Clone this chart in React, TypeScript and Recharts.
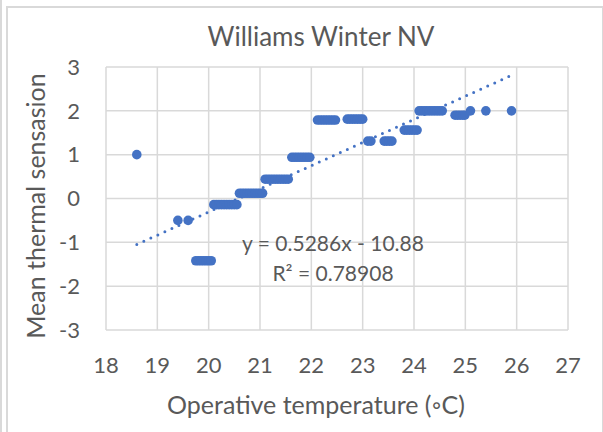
import { ScatterChart, Scatter, XAxis, YAxis, CartesianGrid, ReferenceLine } from 'recharts';

const chartTitle = 'Williams Winter NV';
const xTitle = 'Operative temperature (\u25E6C)';
const yTitle = 'Mean thermal sensasion';

const xTicks = [18, 19, 20, 21, 22, 23, 24, 25, 26, 27];
const yTicks = [-3, -2, -1, 0, 1, 2, 3];

// operative temperature (°C) and mean thermal sensation
const temperature = [
  18.6,
  19.4, 19.6,
  19.75, 19.8, 19.85, 19.9, 19.95, 20.0, 20.05,
  20.1, 20.15, 20.2, 20.25, 20.3, 20.35, 20.4, 20.45, 20.5, 20.55,
  20.6, 20.65, 20.7, 20.75, 20.8, 20.85, 20.9, 20.95, 21.0, 21.05,
  21.1, 21.15, 21.2, 21.25, 21.3, 21.35, 21.4, 21.45, 21.5, 21.55,
  21.62, 21.67, 21.72, 21.77, 21.82, 21.87, 21.92, 21.97,
  22.12, 22.17, 22.22, 22.27, 22.32, 22.37, 22.42, 22.47,
  22.7, 22.75, 22.8, 22.85, 22.9, 22.95, 23.0,
  23.1, 23.16,
  23.42, 23.47, 23.52, 23.57,
  23.81, 23.86, 23.91, 23.96, 24.01, 24.06,
  24.1, 24.15, 24.2, 24.25, 24.3, 24.35, 24.4, 24.45, 24.5, 24.55,
  24.8, 24.85, 24.9, 24.95, 24.99,
  25.1, 25.4, 25.9,
];

const sensation = [
  1.0,
  -0.5, -0.5,
  -1.42, -1.42, -1.42, -1.42, -1.42, -1.42, -1.42,
  -0.14, -0.14, -0.14, -0.14, -0.14, -0.14, -0.14, -0.14, -0.14, -0.14,
  0.12, 0.12, 0.12, 0.12, 0.12, 0.12, 0.12, 0.12, 0.12, 0.12,
  0.44, 0.44, 0.44, 0.44, 0.44, 0.44, 0.44, 0.44, 0.44, 0.44,
  0.94, 0.94, 0.94, 0.94, 0.94, 0.94, 0.94, 0.94,
  1.79, 1.79, 1.79, 1.79, 1.79, 1.79, 1.79, 1.79,
  1.81, 1.81, 1.81, 1.81, 1.81, 1.81, 1.81,
  1.31, 1.31,
  1.31, 1.31, 1.31, 1.31,
  1.56, 1.56, 1.56, 1.56, 1.56, 1.56,
  2.0, 2.0, 2.0, 2.0, 2.0, 2.0, 2.0, 2.0, 2.0, 2.0,
  1.9, 1.9, 1.9, 1.9, 1.9,
  2.0, 2.0, 2.0,
];

// linear trendline as reported on the chart
const trendSlope = 0.5286;
const trendIntercept = -10.88;
const trendR2 = 0.78908;

const points = temperature.map((x, i) => ({ x, y: sensation[i] }));
const xMin = Math.min(...temperature);
const xMax = Math.max(...temperature);
const trendSegment = [
  { x: xMin, y: trendSlope * xMin + trendIntercept },
  { x: xMax, y: trendSlope * xMax + trendIntercept },
];

const BLUE = '#4472C4';
const GRID = '#d9d9d9';
const TEXT = '#595959';
const FONT = 'Lato, Calibri, sans-serif';

const Dot = (props: any) => <circle cx={props.cx} cy={props.cy} r={4.8} fill={BLUE} />;

const centered = (x: number, y: number, size: number): React.CSSProperties => ({
  position: 'absolute',
  left: x,
  top: y,
  transform: 'translate(-50%, -50%)',
  fontFamily: FONT,
  fontSize: size,
  lineHeight: 1.2,
  color: TEXT,
  whiteSpace: 'nowrap',
});

export default function App() {
  return (
    <div style={{ position: 'absolute', left: 0, top: 0, width: 603, height: 432, overflow: 'hidden', background: '#fff' }}>
      <div style={{ position: 'absolute', left: 0, top: 0, width: 2, height: 432, background: GRID }} />
      <div style={{ position: 'absolute', left: 6, top: 6, width: 594, height: 460, border: `2px solid ${GRID}` }} />

      <ScatterChart
        width={603}
        height={432}
        margin={{ top: 67, right: 35, bottom: 62, left: 66 }}
        style={{ position: 'absolute', left: 0, top: 0 }}
      >
        <CartesianGrid stroke={GRID} strokeWidth={1.5} />
        <XAxis
          type="number"
          dataKey="x"
          domain={[18, 27]}
          ticks={xTicks}
          height={40}
          axisLine={false}
          tickLine={false}
          tickSize={0}
          tickMargin={27}
          tick={{ fill: TEXT, fontSize: 22, fontFamily: FONT }}
        />
        <YAxis
          type="number"
          dataKey="y"
          domain={[-3, 3]}
          ticks={yTicks}
          width={40}
          axisLine={false}
          tickLine={false}
          tickSize={0}
          tickMargin={26}
          tick={{ fill: TEXT, fontSize: 22, fontFamily: FONT }}
        />
        <Scatter data={points} shape={Dot} fill={BLUE} isAnimationActive={false} />
        <ReferenceLine
          segment={trendSegment}
          stroke={BLUE}
          strokeWidth={3}
          strokeDasharray="0 7.7"
          strokeLinecap="round"
        />
      </ScatterChart>

      <div style={centered(321, 37, 26)}>{chartTitle}</div>
      <div style={centered(316, 404, 25)}>{xTitle}</div>
      <div style={{ ...centered(35, 206, 25), transform: 'translate(-50%, -50%) rotate(-90deg)' }}>{yTitle}</div>
      <div style={{ ...centered(333, 258, 21), lineHeight: '30px', textAlign: 'center' }}>
        <div>{`y = ${trendSlope}x - ${Math.abs(trendIntercept)}`}</div>
        <div>{`R\u00B2 = ${trendR2}`}</div>
      </div>
    </div>
  );
}
